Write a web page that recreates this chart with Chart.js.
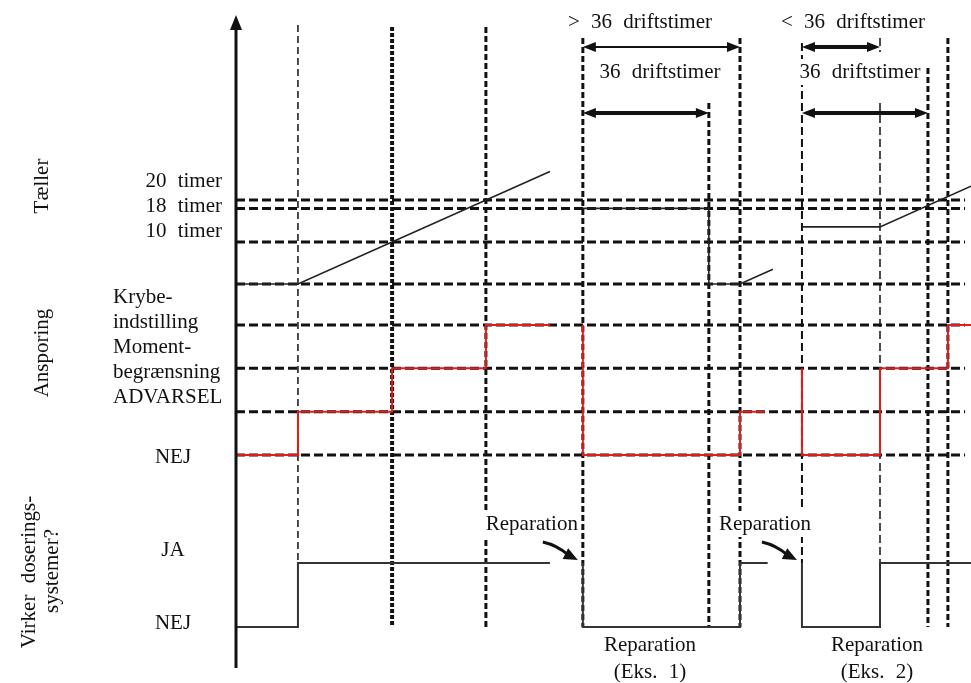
<!DOCTYPE html>
<html>
<head>
<meta charset="utf-8">
<script src="https://cdn.jsdelivr.net/npm/chart.js@4/dist/chart.umd.min.js"></script>
<style>
  html, body { margin: 0; padding: 0; background: #fff; }
  #wrap { width: 971px; height: 683px; }
</style>
</head>
<body>
<div id="wrap"><canvas id="timing" width="971" height="683"></canvas></div>
<script>
// time is in driftstimer counted from the vertical axis, null = line break
const counterTimes = [0, 17.7, 89.7, 94, 99.1, 135.1, 135.1, 144, 153.4, 157, 161.7, 184, 210];
const counterHours = [0, 0, 26.8, null, 18, 18, 0, 0, 3.5, null, 13.6, 13.6, 23.3];

// 0 = NEJ, 1 = ADVARSEL, 2 = Momentbegrænsning, 3 = Krybeindstilling
const alarmTimes = [0, 17.7, 17.7, 44.6, 44.6, 71.4, 71.4, 89.7, 94, 99.1, 99.1, 144, 144, 151.1, 156, 161.7, 161.7, 184, 184, 203.4, 203.4, 210];
const alarmLevels = [0, 0, 1, 1, 2, 2, 3, 3, null, 3, 0, 0, 1, 1, null, 2, 0, 0, 2, 2, 3, 3];

// 0 = NEJ, 1 = JA
const dosingTimes = [0, 17.7, 17.7, 89.7, 94, 99.1, 99.1, 144, 144, 151.9, 156, 161.7, 161.7, 184, 184, 210];
const dosingState = [0, 0, 1, 1, null, 1, 0, 0, 1, 1, null, 1, 0, 0, 1, 1];

const eventTimes = [17.7, 44.6, 71.4, 99.1, 135.1, 144, 161.7, 184, 197.7, 203.4];
const counterTicks = [20, 18, 10, 0];
const counterLabels = ['20 timer', '18 timer', '10 timer'];
const alarmTicks = [3, 2, 1, 0];
const alarmLabels = ['Krybe-', 'indstilling', 'Moment-', 'begrænsning', 'ADVARSEL'];
const dosingLabels = ['JA', 'NEJ'];
const spans = [
  [99.1, 144, '> 36 driftstimer'],
  [99.1, 135.1, '36 driftstimer'],
  [161.7, 184, '< 36 driftstimer'],
  [161.7, 197.7, '36 driftstimer']
];
const repairs = [99.1, 161.7];

function pts(xs, ys) {
  return xs.map((x, i) => ({ x: x, y: ys[i] }));
}

const FONT = '21px "Liberation Serif", "DejaVu Serif", serif';

function dashed(ctx, x1, y1, x2, y2, w, dash) {
  ctx.save();
  ctx.strokeStyle = '#111';
  ctx.lineWidth = w;
  ctx.setLineDash(dash);
  ctx.beginPath();
  ctx.moveTo(x1, y1);
  ctx.lineTo(x2, y2);
  ctx.stroke();
  ctx.restore();
}

function head(ctx, x, y, dir, len, half) {
  ctx.beginPath();
  ctx.moveTo(x, y);
  ctx.lineTo(x - dir * len, y - half);
  ctx.lineTo(x - dir * len, y + half);
  ctx.closePath();
  ctx.fill();
}

function spanArrow(ctx, x1, x2, y, w) {
  ctx.save();
  ctx.strokeStyle = '#111';
  ctx.fillStyle = '#111';
  ctx.lineWidth = w;
  ctx.beginPath();
  ctx.moveTo(x1 + 6, y);
  ctx.lineTo(x2 - 6, y);
  ctx.stroke();
  head(ctx, x1, y, -1, 13, 5);
  head(ctx, x2, y, 1, 13, 5);
  ctx.restore();
}

function text(ctx, s, x, y, align, blank) {
  ctx.save();
  ctx.font = FONT;
  if ('wordSpacing' in ctx) ctx.wordSpacing = '6px';
  ctx.textAlign = align || 'center';
  ctx.textBaseline = 'middle';
  if (blank) {
    const w = ctx.measureText(s).width;
    const left = align === 'left' ? x : x - w / 2;
    ctx.fillStyle = '#fff';
    ctx.fillRect(left - 2, y - 13, w + 4, 26);
  }
  ctx.fillStyle = '#111';
  ctx.fillText(s, x, y);
  ctx.restore();
}

function vtext(ctx, s, x, y) {
  ctx.save();
  ctx.translate(x, y);
  ctx.rotate(-Math.PI / 2);
  text(ctx, s, 0, 0);
  ctx.restore();
}

// dash style for each event line, in eventTimes order
const guideStyle = [
  { w: 1.5, d: [7, 4], top: 25, end: 'ja' },
  { w: 4, d: [4, 2], top: 27, end: 'nej' },
  { w: 3, d: [6, 3], top: 27, end: 'nej' },
  { w: 3, d: [6, 3], top: 38, end: 'nej' },
  { w: 3, d: [6, 3], top: 103, end: 'nej' },
  { w: 3, d: [6, 3], top: 38, end: 'nej' },
  { w: 2, d: [8, 4], top: 43, end: 'ja' },
  { w: 1.5, d: [8, 4], top: 103, end: 'ja' },
  { w: 3, d: [6, 3], top: 68, end: 'nej' },
  { w: 3, d: [6, 3], top: 38, end: 'nej' }
];

const guides = {
  id: 'guides',
  beforeDatasetsDraw(chart) {
    const ctx = chart.ctx;
    const sx = chart.scales.x, sc = chart.scales.yCount, sa = chart.scales.yAlarm, sd = chart.scales.yDose;
    const x0 = sx.getPixelForValue(0);
    const xEnd = sx.getPixelForValue(208.3);
    counterTicks.forEach(v => {
      const y = sc.getPixelForValue(v);
      dashed(ctx, x0, y, xEnd, y, 3, [9, 4]);
    });
    alarmTicks.forEach(v => {
      const y = sa.getPixelForValue(v);
      dashed(ctx, x0, y, xEnd, y, 3, [9, 4]);
    });
    eventTimes.forEach((t, i) => {
      const g = guideStyle[i];
      const x = sx.getPixelForValue(t);
      const bottom = g.end === 'ja' ? sd.getPixelForValue(1) : sd.getPixelForValue(0);
      dashed(ctx, x, g.top, x, bottom, g.w, g.d);
    });
    // short tick at end of the "< 36" span
    const xs = sx.getPixelForValue(184);
    dashed(ctx, xs, 38, xs, 52, 1.5, [8, 4]);
  },
  afterDatasetsDraw(chart) {
    const ctx = chart.ctx;
    const sx = chart.scales.x, sc = chart.scales.yCount, sa = chart.scales.yAlarm, sd = chart.scales.yDose;
    const x0 = sx.getPixelForValue(0);

    // vertical axis with arrow
    ctx.save();
    ctx.strokeStyle = '#111';
    ctx.fillStyle = '#111';
    ctx.lineWidth = 3;
    ctx.beginPath();
    ctx.moveTo(x0, 668);
    ctx.lineTo(x0, 26);
    ctx.stroke();
    ctx.beginPath();
    ctx.moveTo(x0, 15);
    ctx.lineTo(x0 - 6, 30);
    ctx.lineTo(x0 + 6, 30);
    ctx.closePath();
    ctx.fill();
    ctx.restore();

    // counter labels
    const y10 = sc.getPixelForValue(10);
    counterLabels.forEach((s, i) => text(ctx, s, 222, y10 - 11 - (2 - i) * 25, 'right'));
    // alarm labels
    const yK = sa.getPixelForValue(3);
    alarmLabels.forEach((s, i) => text(ctx, s, 113, yK - 28 + i * 25, 'left'));
    text(ctx, 'NEJ', 173, sa.getPixelForValue(0) + 2);
    text(ctx, dosingLabels[0], 173, sd.getPixelForValue(1) - 13);
    text(ctx, dosingLabels[1], 173, sd.getPixelForValue(0) - 4);

    // row titles
    vtext(ctx, 'Tæller', 42, 186);
    vtext(ctx, 'Ansporing', 42, 353);
    vtext(ctx, 'Virker doserings-', 29, 572);
    vtext(ctx, 'systemer?', 52, 571);

    // time spans on top
    spans.forEach((s, i) => {
      const a = sx.getPixelForValue(s[0]);
      const b = sx.getPixelForValue(s[1]);
      const y = i % 2 === 0 ? 47 : 113;
      const w = (i === 0) ? 2 : 4;
      spanArrow(ctx, a, b, y, w);
    });
    text(ctx, spans[0][2], 640, 22);
    text(ctx, spans[1][2], 660, 72, 'center', true);
    text(ctx, spans[2][2], 853, 22);
    text(ctx, spans[3][2], 860, 72, 'center', true);

    // repair callouts
    repairs.forEach((t, i) => {
      const x = sx.getPixelForValue(t);
      const yJa = sd.getPixelForValue(1);
      text(ctx, 'Reparation', i === 0 ? x - 51 : x - 37, yJa - 39, 'center', true);
      ctx.save();
      ctx.strokeStyle = '#111';
      ctx.fillStyle = '#111';
      ctx.lineWidth = 3;
      const tx = x - 5, ty = yJa - 3;
      const fx = tx - 35, fy = ty - 18;
      const ang = Math.atan2(ty - fy, tx - fx);
      ctx.beginPath();
      ctx.moveTo(fx, fy);
      ctx.quadraticCurveTo(fx + 14, fy + 3, tx - 10 * Math.cos(ang), ty - 10 * Math.sin(ang));
      ctx.stroke();
      ctx.translate(tx, ty);
      ctx.rotate(ang);
      ctx.beginPath();
      ctx.moveTo(0, 0);
      ctx.lineTo(-14, -6);
      ctx.lineTo(-14, 6);
      ctx.closePath();
      ctx.fill();
      ctx.restore();
    });
    text(ctx, 'Reparation', 650, 645);
    text(ctx, '(Eks. 1)', 650, 672);
    text(ctx, 'Reparation', 877, 645);
    text(ctx, '(Eks. 2)', 877, 672);
  }
};

new Chart(document.getElementById('timing').getContext('2d'), {
  type: 'line',
  data: {
    datasets: [
      {
        label: 'Tæller',
        data: pts(counterTimes, counterHours),
        yAxisID: 'yCount',
        borderColor: '#222',
        borderWidth: 1.6,
        pointRadius: 0,
        spanGaps: false
      },
      {
        label: 'Ansporing',
        data: pts(alarmTimes, alarmLevels),
        yAxisID: 'yAlarm',
        borderColor: '#e31b1b',
        borderWidth: 2,
        pointRadius: 0,
        spanGaps: false
      },
      {
        label: 'Virker doseringssystemer?',
        data: pts(dosingTimes, dosingState),
        yAxisID: 'yDose',
        borderColor: '#333',
        borderWidth: 2,
        pointRadius: 0,
        spanGaps: false
      }
    ]
  },
  options: {
    responsive: false,
    animation: false,
    devicePixelRatio: 1,
    layout: { padding: 0 },
    plugins: { legend: { display: false }, tooltip: { enabled: false } },
    scales: {
      x: { type: 'linear', display: false, min: -67.43, max: 210 },
      yCount: { type: 'linear', display: false, min: -95, max: 67.62 },
      yAlarm: { type: 'linear', display: false, min: -5.262, max: 10.5 },
      yDose: { type: 'linear', display: false, min: -0.875, max: 9.797 }
    }
  },
  plugins: [guides]
});
</script>
</body>
</html>
